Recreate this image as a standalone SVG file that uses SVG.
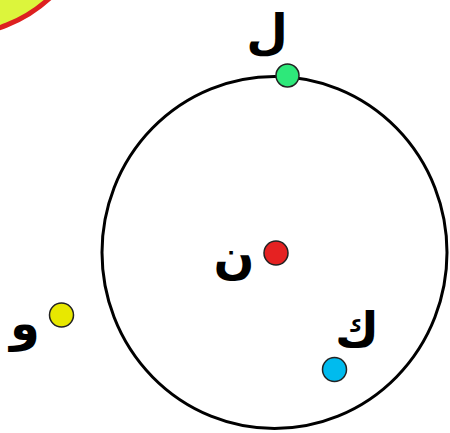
<svg xmlns="http://www.w3.org/2000/svg" width="450" height="433" viewBox="0 0 450 433">
<style>
.lbl{font-family:"DejaVu Sans",sans-serif;font-weight:bold;font-size:48px;fill:#000;text-anchor:middle}
.pt{stroke:#222;stroke-width:1.5}
</style>
<rect width="450" height="433" fill="#fff"/>
<g id="bigdisc"><circle cx="-45" cy="-105" r="140" fill="#dcf53c" stroke="#dd2020" stroke-width="5"/></g>
<g id="circle"><ellipse cx="274.5" cy="252.5" rx="172.5" ry="176" fill="none" stroke="#000" stroke-width="3"/></g>
<g id="connectors"></g>
<g id="L"><circle class="pt" cx="287.5" cy="75.5" r="11.5" fill="#2ee87a"/><text class="lbl" x="267" y="48">ل</text></g>
<g id="N"><circle class="pt" cx="276" cy="253" r="12" fill="#e52222"/><text class="lbl" x="234" y="273">ن</text></g>
<g id="W"><circle class="pt" cx="61.5" cy="315" r="12" fill="#e8e800"/><text class="lbl" x="25" y="340">و</text></g>
<g id="K"><circle class="pt" cx="334.5" cy="369.5" r="12" fill="#00bbee"/><text class="lbl" x="357" y="346">ك</text></g>
</svg>
